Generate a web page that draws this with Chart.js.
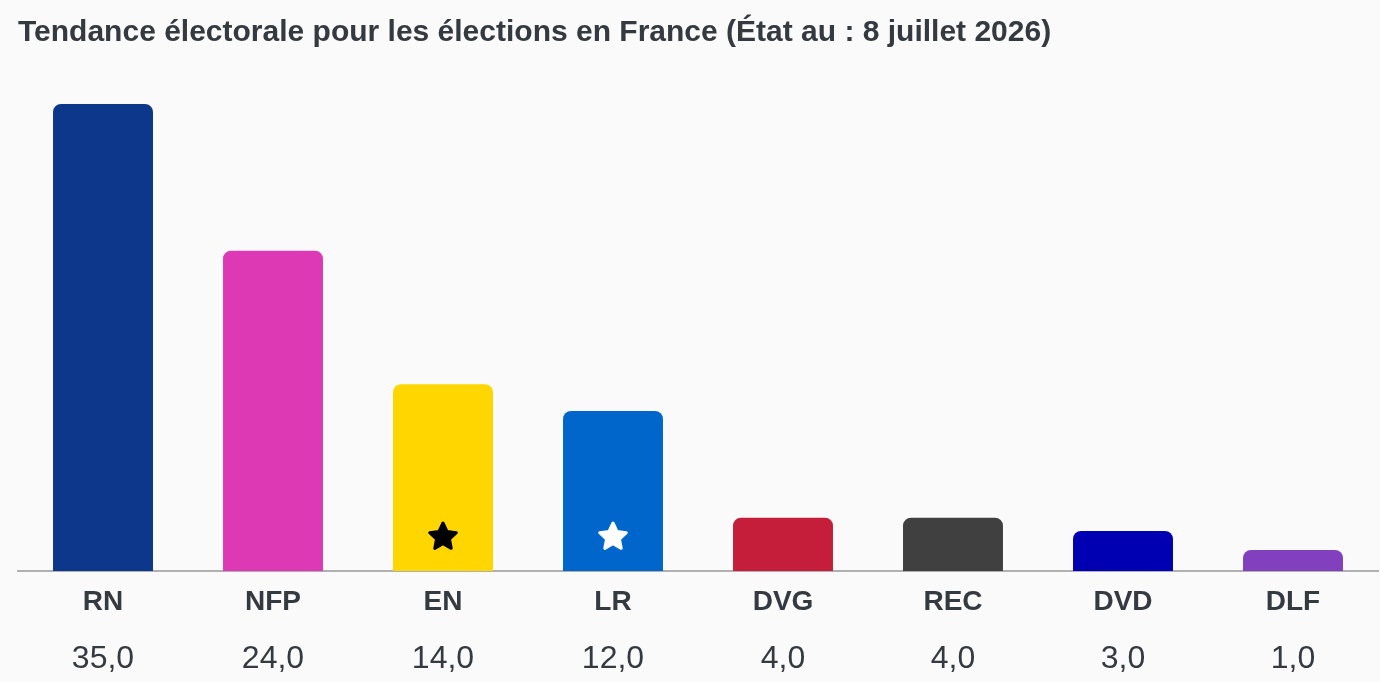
<!DOCTYPE html>
<html>
<head>
<meta charset="utf-8">
<script src="https://cdn.jsdelivr.net/npm/chart.js@4"></script>
<style>
  html, body { margin: 0; padding: 0; background: #fafafa; }
  #wrap { width: 1380px; height: 682px; position: relative; }
</style>
</head>
<body>
<div id="wrap"><canvas id="pollChart"></canvas></div>
<script>
const parties = ["RN", "NFP", "EN", "LR", "DVG", "REC", "DVD", "DLF"];
const shares = [35, 24, 14, 12, 4, 4, 3, 1];
const partyColors = ["#0d378a", "#dd39b5", "#ffd600", "#0066cc", "#c41e3a", "#404040", "#0000b3", "#8141bf"];
// star markers inside some bars: null = none
const starColors = [null, null, "#000000", "#ffffff", null, null, null, null];

const textColor = "#343a40";
const fmt = v => v.toFixed(1).replace(".", ",");

function starPath(ctx, cx, cy, outer, inner) {
  ctx.beginPath();
  for (let i = 0; i < 10; i++) {
    const r = i % 2 === 0 ? outer : inner;
    const a = -Math.PI / 2 + i * Math.PI / 5;
    const x = cx + r * Math.cos(a);
    const y = cy + r * Math.sin(a);
    if (i === 0) ctx.moveTo(x, y); else ctx.lineTo(x, y);
  }
  ctx.closePath();
}

const starPlugin = {
  id: "stars",
  afterDatasetsDraw(chart) {
    const ctx = chart.ctx;
    const meta = chart.getDatasetMeta(0);
    meta.data.forEach((bar, i) => {
      if (!starColors[i]) return;
      ctx.save();
      ctx.fillStyle = starColors[i];
      ctx.strokeStyle = starColors[i];
      ctx.lineJoin = "round";
      ctx.lineWidth = 3;
      starPath(ctx, bar.x, bar.base - 34, 14, 6.8);
      ctx.fill();
      ctx.stroke();
      ctx.restore();
    });
  }
};

const ctx = document.getElementById("pollChart").getContext("2d");
new Chart(ctx, {
  type: "bar",
  data: {
    labels: parties,
    datasets: [{
      data: shares,
      backgroundColor: partyColors,
      borderRadius: { topLeft: 8, topRight: 8, bottomLeft: 0, bottomRight: 0 },
      borderSkipped: "bottom",
      minBarLength: 21,
      barPercentage: 0.588,
      categoryPercentage: 1.0,
      xAxisID: "x"
    }]
  },
  options: {
    responsive: true,
    maintainAspectRatio: false,
    animation: false,
    layout: { padding: { left: 18, right: 2, top: 0, bottom: 0 } },
    plugins: {
      legend: { display: false },
      tooltip: { enabled: false },
      title: {
        display: true,
        text: "Tendance électorale pour les élections en France (État au : 8 juillet 2026)",
        align: "start",
        color: textColor,
        font: { family: "Liberation Sans", size: 30, weight: "bold" },
        padding: { top: 15, bottom: 53 }
      }
    },
    scales: {
      y: {
        display: false,
        min: 0,
        max: 35
      },
      x: {
        position: "bottom",
        grid: { display: false, drawTicks: false },
        border: { display: true, color: "#b0b0b0", width: 2 },
        ticks: {
          color: textColor,
          padding: 14,
          font: { family: "Liberation Sans", size: 28, weight: "bold" }
        },
        afterFit(scale) { scale.height = 46; }
      },
      xValues: {
        type: "category",
        position: "bottom",
        labels: shares.map(fmt),
        grid: { display: false, drawTicks: false },
        border: { display: false },
        ticks: {
          color: textColor,
          padding: 23,
          font: { family: "Liberation Sans", size: 32 }
        },
        afterFit(scale) { scale.height = 65; }
      }
    }
  },
  plugins: [starPlugin]
});
</script>
</body>
</html>
